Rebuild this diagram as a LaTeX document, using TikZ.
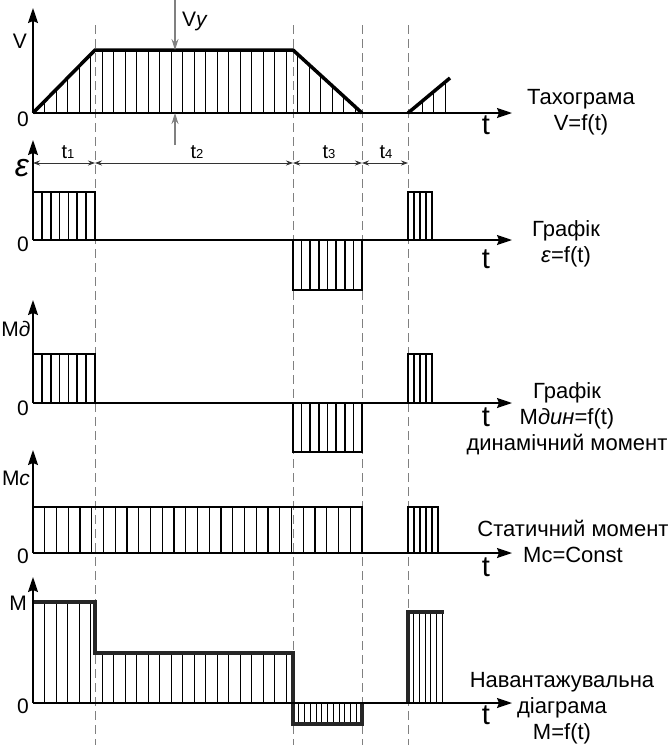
\documentclass[tikz,border=0pt]{standalone}
\usepackage{fontspec}
\setmainfont{Liberation Sans}
\usetikzlibrary{arrows,arrows.meta}

\begin{document}
\begin{tikzpicture}[x=1pt,y=-1pt]

\tikzstyle{every node}=[inner sep=0pt,font=\fontsize{21}{24}\selectfont]
\tikzstyle{axis}=[line width=1.5pt,-{Stealth[length=15pt,width=10pt,inset=2pt]}]
\tikzstyle{tname}=[font=\fontsize{29}{32}\selectfont]
\tikzstyle{tint}=[font=\fontsize{20}{22}\selectfont]
\tikzstyle{caption}=[font=\fontsize{22}{26}\selectfont,align=center]
\tikzstyle{guide}=[gray,line width=0.8pt,dash pattern=on 9pt off 5pt]
\tikzstyle{dim}=[black!80,line width=0.8pt,{Stealth[length=7pt,width=5pt]}-{Stealth[length=7pt,width=5pt]}]
\tikzstyle{vy}=[gray,line width=1.2pt,-{Stealth[length=11pt,width=7pt]}]
\tikzstyle{hatch}=[line width=0.8pt]
\tikzstyle{bar}=[line width=1.6pt]
\tikzstyle{curve}=[line width=3.5pt,line join=miter]

\useasboundingbox (0,0) rectangle (671,745);

% dashed time marks
\draw[guide] (95,25) -- (95,745);
\draw[guide] (293,25) -- (293,745);
\draw[guide] (362,25) -- (362,745);
\draw[guide] (408,25) -- (408,745);

% tachogram V=f(t)
\foreach \x in {44.5,56,...,91} \draw[hatch] (\x,113) -- (\x,{113-63*(\x-33)/62});
\foreach \x in {102,113.5,...,287} \draw[hatch] (\x,113) -- (\x,50);
\foreach \x in {297.5,309,...,356} \draw[hatch] (\x,113) -- (\x,{50+63*(\x-293)/69});
\foreach \x in {422,433.5,445} \draw[hatch] (\x,113) -- (\x,{113-35*(\x-408)/42});
\draw[curve] (33,113) -- (95,50) -- (293,50) -- (362,113);
\draw[curve] (408,113) -- (450,78);
\draw[axis] (33,113) -- (33,8);
\draw[axis] (33,113) -- (512,113);
\node (vname) at (20,41) {V};
\node (v0) at (23,119) {0};
\node[tname] (vt) at (486,125) {t};
\node[caption] (vcap) at (581,112) {Тахограма\\V=f(t)};

% V_y marks
\coordinate (vytop) at (175,0);
\coordinate (vyup) at (175,50);
\coordinate (vybot) at (175,145);
\coordinate (vydown) at (175,113);
\draw[vy] (vytop) -- (vyup);
\draw[vy] (vybot) -- (vydown);
\node (vyname) at (195,21) {V\textit{у}};

% time intervals
\coordinate (d0) at (33,163);
\coordinate (d1) at (95,163);
\coordinate (d2) at (293,163);
\coordinate (d3) at (362,163);
\coordinate (d4) at (408,163);
\draw[dim] (d0) -- (d1);
\draw[dim] (d1) -- (d2);
\draw[dim] (d2) -- (d3);
\draw[dim] (d3) -- (d4);
\node[tint] (t1name) at (68,152) {t{\fontsize{13}{14}\selectfont 1}};
\node[tint] (t2name) at (197,152) {t{\fontsize{13}{14}\selectfont 2}};
\node[tint] (t3name) at (329,152) {t{\fontsize{13}{14}\selectfont 3}};
\node[tint] (t4name) at (386,152) {t{\fontsize{13}{14}\selectfont 4}};

% acceleration
\draw[bar] (33,192) -- (95,192) -- (95,240);
\foreach \i in {1,...,6} \draw[bar] ({33+\i*62/7},240) -- ({33+\i*62/7},192);
\draw[bar] (293,240) -- (293,290) -- (362,290) -- (362,240);
\foreach \i in {1,...,7} \draw[bar] ({293+\i*69/8},240) -- ({293+\i*69/8},290);
\draw[bar] (408,240) -- (408,192) -- (432,192) -- (432,240);
\foreach \i in {1,2,3} \draw[bar] ({408+\i*6},240) -- ({408+\i*6},192);
\draw[axis] (33,240) -- (33,140);
\draw[axis] (33,240) -- (512,240);
\node[font=\fontsize{32}{34}\selectfont\itshape] (ename) at (22,168) {ε};
\node (e0) at (23,244) {0};
\node[tname] (et) at (486,259) {t};
\node[caption] (ecap) at (566,244) {Графік\\\textit{ε}=f(t)};

% dynamic torque
\draw[bar] (33,354) -- (95,354) -- (95,403);
\foreach \i in {1,...,6} \draw[bar] ({33+\i*62/7},403) -- ({33+\i*62/7},354);
\draw[bar] (293,403) -- (293,452) -- (362,452) -- (362,403);
\foreach \i in {1,...,7} \draw[bar] ({293+\i*69/8},403) -- ({293+\i*69/8},452);
\draw[bar] (408,403) -- (408,354) -- (432,354) -- (432,403);
\foreach \i in {1,2,3} \draw[bar] ({408+\i*6},403) -- ({408+\i*6},354);
\draw[axis] (33,403) -- (33,300);
\draw[axis] (33,403) -- (512,403);
\node (mdname) at (16,329) {M\textit{д}};
\node (md0) at (23,408) {0};
\node[tname] (mdt) at (486,417) {t};
\node[caption] (mdcap) at (567,419) {Графік\\M\textit{дин}=f(t)\\динамічний момент};

% static torque
\draw[bar,line width=1.3pt] (33,507) -- (362,507) -- (362,553);
\foreach \i in {1,...,27} \draw[bar,line width=1.3pt] ({33+\i*329/28},553) -- ({33+\i*329/28},507);
\draw[bar,line width=1.3pt] (408,553) -- (408,507) -- (438,507) -- (438,553);
\foreach \i in {1,...,4} \draw[bar,line width=1.3pt] ({408+\i*6},553) -- ({408+\i*6},507);
\draw[axis] (33,553) -- (33,450);
\draw[axis] (33,553) -- (512,553);
\node (mcname) at (16,478) {M\textit{c}};
\node (mc0) at (23,556) {0};
\node[tname] (mct) at (486,567) {t};
\node[caption] (mccap) at (573,541) {Статичний момент\\Mc=Const};

% load diagram
\foreach \x in {44.5,56,...,91} \draw[hatch] (\x,703) -- (\x,602);
\foreach \x in {102,113.5,...,287} \draw[hatch] (\x,703) -- (\x,653);
\foreach \i in {1,...,11} \draw[hatch] ({293+\i*69/12},703) -- ({293+\i*69/12},724);
\foreach \i in {1,...,6} \draw[hatch] ({408+\i*5.7},703) -- ({408+\i*5.7},612);
\draw[curve,black!85] (33,602) -- (95,602) -- (95,653) -- (293,653) -- (293,724) -- (362,724) -- (362,703);
\draw[curve,black!85] (408,703) -- (408,612) -- (444,612);
\draw[axis] (33,703) -- (33,577);
\draw[axis] (33,703) -- (512,703);
\node (mname) at (18,603) {M};
\node (m0) at (23,706) {0};
\node[tname] (mt) at (486,715) {t};
\node[caption] (mcap) at (562,708) {Навантажувальна\\діаграма\\M=f(t)};

\end{tikzpicture}
\end{document}
